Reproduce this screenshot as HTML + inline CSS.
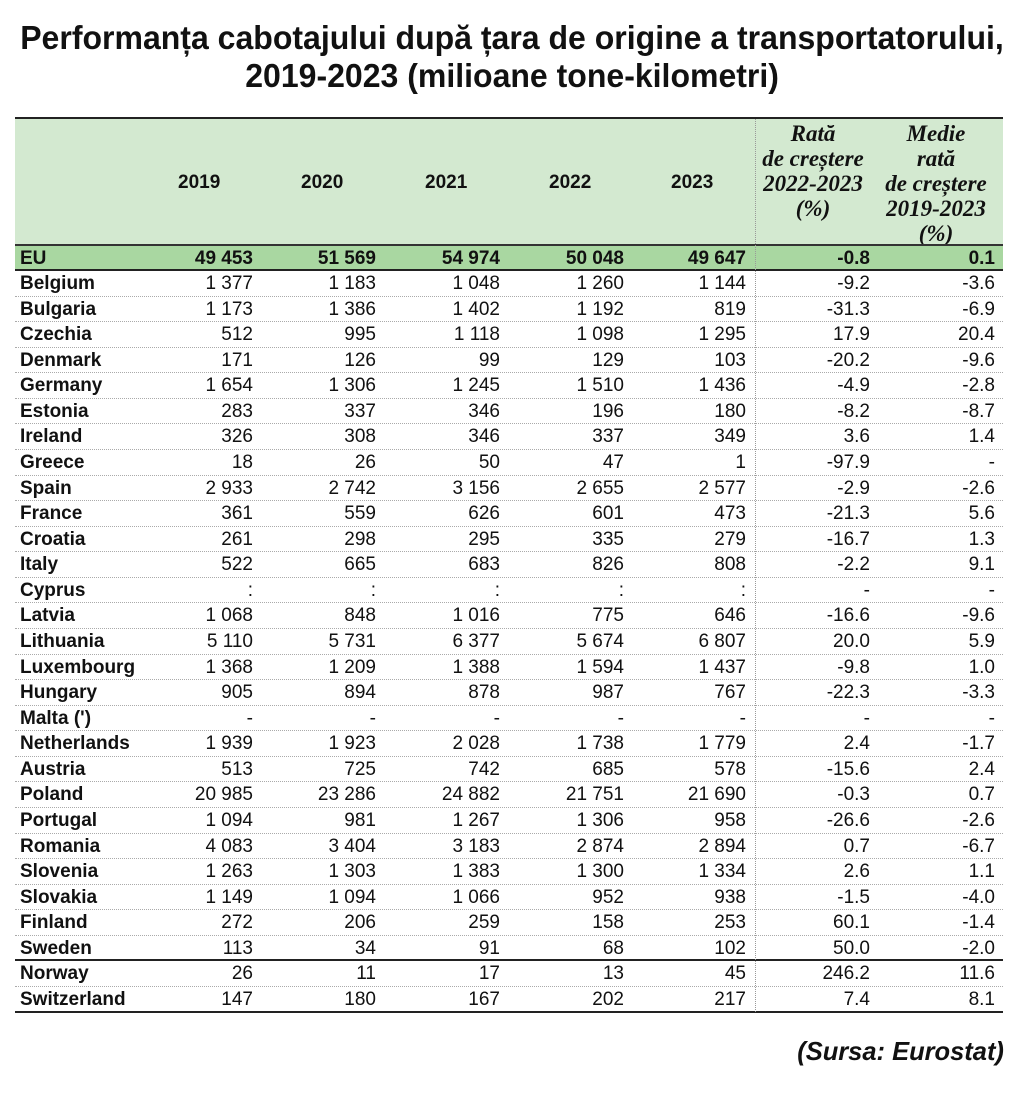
<!DOCTYPE html>
<html><head><meta charset="utf-8"><style>
body{margin:0;width:1024px;height:1100px;background:#fff;position:relative;overflow:hidden;font-family:"Liberation Sans",Arial,sans-serif;color:#111}
.t{position:absolute;left:0;width:1024px;text-align:center;font-weight:bold;font-size:33px;white-space:nowrap}
.t span{display:inline-block;transform:scaleX(0.97);transform-origin:center}
.hdr{position:absolute;left:15px;top:117px;width:988px;height:127px;background:#d3e9d0;border-top:2.5px solid #222;box-sizing:border-box}
.h{position:absolute;font-weight:bold;font-size:19px;top:172px}
.hi{position:absolute;font-weight:bold;font-style:italic;font-family:"Liberation Serif",serif;font-size:23px;line-height:25px;text-align:center;width:130px}
.r{position:absolute;left:15px;width:988px;height:25.6px;line-height:25px;font-size:19px;border-bottom:1px dotted #aaa;box-sizing:border-box}
.r span{position:absolute;white-space:nowrap}
.r .n{left:5px;font-weight:bold}
.c1{right:750px}.c2{right:627px}.c3{right:503px}.c4{right:379px}.c5{right:257px}.c6{right:133px}.c7{right:8px}
.eu{background:#a9d7a1;border-top:2px solid #333;border-bottom:2.5px solid #222;font-weight:bold}
.vl{position:absolute;left:755px;top:119px;height:893px;border-left:1px dotted #999}
.src{position:absolute;right:20px;top:1036px;font-weight:bold;font-style:italic;font-size:26px}
.src span{display:inline-block;transform:scaleX(0.98);transform-origin:right}
</style></head><body>
<div class="t" style="top:19px"><span>Performanța cabotajului după țara de origine a transportatorului,</span></div>
<div class="t" style="top:57px"><span>2019-2023 (milioane tone-kilometri)</span></div>
<div class="hdr"></div>
<div class="h" style="left:178px">2019</div>
<div class="h" style="left:301px">2020</div>
<div class="h" style="left:425px">2021</div>
<div class="h" style="left:549px">2022</div>
<div class="h" style="left:671px">2023</div>
<div class="hi" style="left:748px;top:121px">Rată<br>de creștere<br>2022-2023<br>(%)</div>
<div class="hi" style="left:871px;top:121px">Medie<br>rată<br>de creștere<br>2019-2023<br>(%)</div>

<div class="r eu" style="top:244px;height:27px"><span class="n">EU</span><span class="c1">49 453</span><span class="c2">51 569</span><span class="c3">54 974</span><span class="c4">50 048</span><span class="c5">49 647</span><span class="c6">-0.8</span><span class="c7">0.1</span></div>
<div class="r" style="top:271px"><span class="n">Belgium</span><span class="c1">1 377</span><span class="c2">1 183</span><span class="c3">1 048</span><span class="c4">1 260</span><span class="c5">1 144</span><span class="c6">-9.2</span><span class="c7">-3.6</span></div>
<div class="r" style="top:296.6px"><span class="n">Bulgaria</span><span class="c1">1 173</span><span class="c2">1 386</span><span class="c3">1 402</span><span class="c4">1 192</span><span class="c5">819</span><span class="c6">-31.3</span><span class="c7">-6.9</span></div>
<div class="r" style="top:322.1px"><span class="n">Czechia</span><span class="c1">512</span><span class="c2">995</span><span class="c3">1 118</span><span class="c4">1 098</span><span class="c5">1 295</span><span class="c6">17.9</span><span class="c7">20.4</span></div>
<div class="r" style="top:347.7px"><span class="n">Denmark</span><span class="c1">171</span><span class="c2">126</span><span class="c3">99</span><span class="c4">129</span><span class="c5">103</span><span class="c6">-20.2</span><span class="c7">-9.6</span></div>
<div class="r" style="top:373.3px"><span class="n">Germany</span><span class="c1">1 654</span><span class="c2">1 306</span><span class="c3">1 245</span><span class="c4">1 510</span><span class="c5">1 436</span><span class="c6">-4.9</span><span class="c7">-2.8</span></div>
<div class="r" style="top:398.9px"><span class="n">Estonia</span><span class="c1">283</span><span class="c2">337</span><span class="c3">346</span><span class="c4">196</span><span class="c5">180</span><span class="c6">-8.2</span><span class="c7">-8.7</span></div>
<div class="r" style="top:424.4px"><span class="n">Ireland</span><span class="c1">326</span><span class="c2">308</span><span class="c3">346</span><span class="c4">337</span><span class="c5">349</span><span class="c6">3.6</span><span class="c7">1.4</span></div>
<div class="r" style="top:450px"><span class="n">Greece</span><span class="c1">18</span><span class="c2">26</span><span class="c3">50</span><span class="c4">47</span><span class="c5">1</span><span class="c6">-97.9</span><span class="c7">-</span></div>
<div class="r" style="top:475.6px"><span class="n">Spain</span><span class="c1">2 933</span><span class="c2">2 742</span><span class="c3">3 156</span><span class="c4">2 655</span><span class="c5">2 577</span><span class="c6">-2.9</span><span class="c7">-2.6</span></div>
<div class="r" style="top:501.1px"><span class="n">France</span><span class="c1">361</span><span class="c2">559</span><span class="c3">626</span><span class="c4">601</span><span class="c5">473</span><span class="c6">-21.3</span><span class="c7">5.6</span></div>
<div class="r" style="top:526.7px"><span class="n">Croatia</span><span class="c1">261</span><span class="c2">298</span><span class="c3">295</span><span class="c4">335</span><span class="c5">279</span><span class="c6">-16.7</span><span class="c7">1.3</span></div>
<div class="r" style="top:552.3px"><span class="n">Italy</span><span class="c1">522</span><span class="c2">665</span><span class="c3">683</span><span class="c4">826</span><span class="c5">808</span><span class="c6">-2.2</span><span class="c7">9.1</span></div>
<div class="r" style="top:577.8px"><span class="n">Cyprus</span><span class="c1">:</span><span class="c2">:</span><span class="c3">:</span><span class="c4">:</span><span class="c5">:</span><span class="c6">-</span><span class="c7">-</span></div>
<div class="r" style="top:603.4px"><span class="n">Latvia</span><span class="c1">1 068</span><span class="c2">848</span><span class="c3">1 016</span><span class="c4">775</span><span class="c5">646</span><span class="c6">-16.6</span><span class="c7">-9.6</span></div>
<div class="r" style="top:629px"><span class="n">Lithuania</span><span class="c1">5 110</span><span class="c2">5 731</span><span class="c3">6 377</span><span class="c4">5 674</span><span class="c5">6 807</span><span class="c6">20.0</span><span class="c7">5.9</span></div>
<div class="r" style="top:654.6px"><span class="n">Luxembourg</span><span class="c1">1 368</span><span class="c2">1 209</span><span class="c3">1 388</span><span class="c4">1 594</span><span class="c5">1 437</span><span class="c6">-9.8</span><span class="c7">1.0</span></div>
<div class="r" style="top:680.1px"><span class="n">Hungary</span><span class="c1">905</span><span class="c2">894</span><span class="c3">878</span><span class="c4">987</span><span class="c5">767</span><span class="c6">-22.3</span><span class="c7">-3.3</span></div>
<div class="r" style="top:705.7px"><span class="n">Malta (')</span><span class="c1">-</span><span class="c2">-</span><span class="c3">-</span><span class="c4">-</span><span class="c5">-</span><span class="c6">-</span><span class="c7">-</span></div>
<div class="r" style="top:731.3px"><span class="n">Netherlands</span><span class="c1">1 939</span><span class="c2">1 923</span><span class="c3">2 028</span><span class="c4">1 738</span><span class="c5">1 779</span><span class="c6">2.4</span><span class="c7">-1.7</span></div>
<div class="r" style="top:756.8px"><span class="n">Austria</span><span class="c1">513</span><span class="c2">725</span><span class="c3">742</span><span class="c4">685</span><span class="c5">578</span><span class="c6">-15.6</span><span class="c7">2.4</span></div>
<div class="r" style="top:782.4px"><span class="n">Poland</span><span class="c1">20 985</span><span class="c2">23 286</span><span class="c3">24 882</span><span class="c4">21 751</span><span class="c5">21 690</span><span class="c6">-0.3</span><span class="c7">0.7</span></div>
<div class="r" style="top:808px"><span class="n">Portugal</span><span class="c1">1 094</span><span class="c2">981</span><span class="c3">1 267</span><span class="c4">1 306</span><span class="c5">958</span><span class="c6">-26.6</span><span class="c7">-2.6</span></div>
<div class="r" style="top:833.5px"><span class="n">Romania</span><span class="c1">4 083</span><span class="c2">3 404</span><span class="c3">3 183</span><span class="c4">2 874</span><span class="c5">2 894</span><span class="c6">0.7</span><span class="c7">-6.7</span></div>
<div class="r" style="top:859.1px"><span class="n">Slovenia</span><span class="c1">1 263</span><span class="c2">1 303</span><span class="c3">1 383</span><span class="c4">1 300</span><span class="c5">1 334</span><span class="c6">2.6</span><span class="c7">1.1</span></div>
<div class="r" style="top:884.7px"><span class="n">Slovakia</span><span class="c1">1 149</span><span class="c2">1 094</span><span class="c3">1 066</span><span class="c4">952</span><span class="c5">938</span><span class="c6">-1.5</span><span class="c7">-4.0</span></div>
<div class="r" style="top:910.3px"><span class="n">Finland</span><span class="c1">272</span><span class="c2">206</span><span class="c3">259</span><span class="c4">158</span><span class="c5">253</span><span class="c6">60.1</span><span class="c7">-1.4</span></div>
<div class="r" style="top:935.8px;border-bottom:2px solid #222"><span class="n">Sweden</span><span class="c1">113</span><span class="c2">34</span><span class="c3">91</span><span class="c4">68</span><span class="c5">102</span><span class="c6">50.0</span><span class="c7">-2.0</span></div>
<div class="r" style="top:961.4px"><span class="n">Norway</span><span class="c1">26</span><span class="c2">11</span><span class="c3">17</span><span class="c4">13</span><span class="c5">45</span><span class="c6">246.2</span><span class="c7">11.6</span></div>
<div class="r" style="top:987px;border-bottom:2px solid #222"><span class="n">Switzerland</span><span class="c1">147</span><span class="c2">180</span><span class="c3">167</span><span class="c4">202</span><span class="c5">217</span><span class="c6">7.4</span><span class="c7">8.1</span></div>
<div class="vl"></div>
<div class="src"><span>(Sursa: Eurostat)</span></div>
</body></html>
